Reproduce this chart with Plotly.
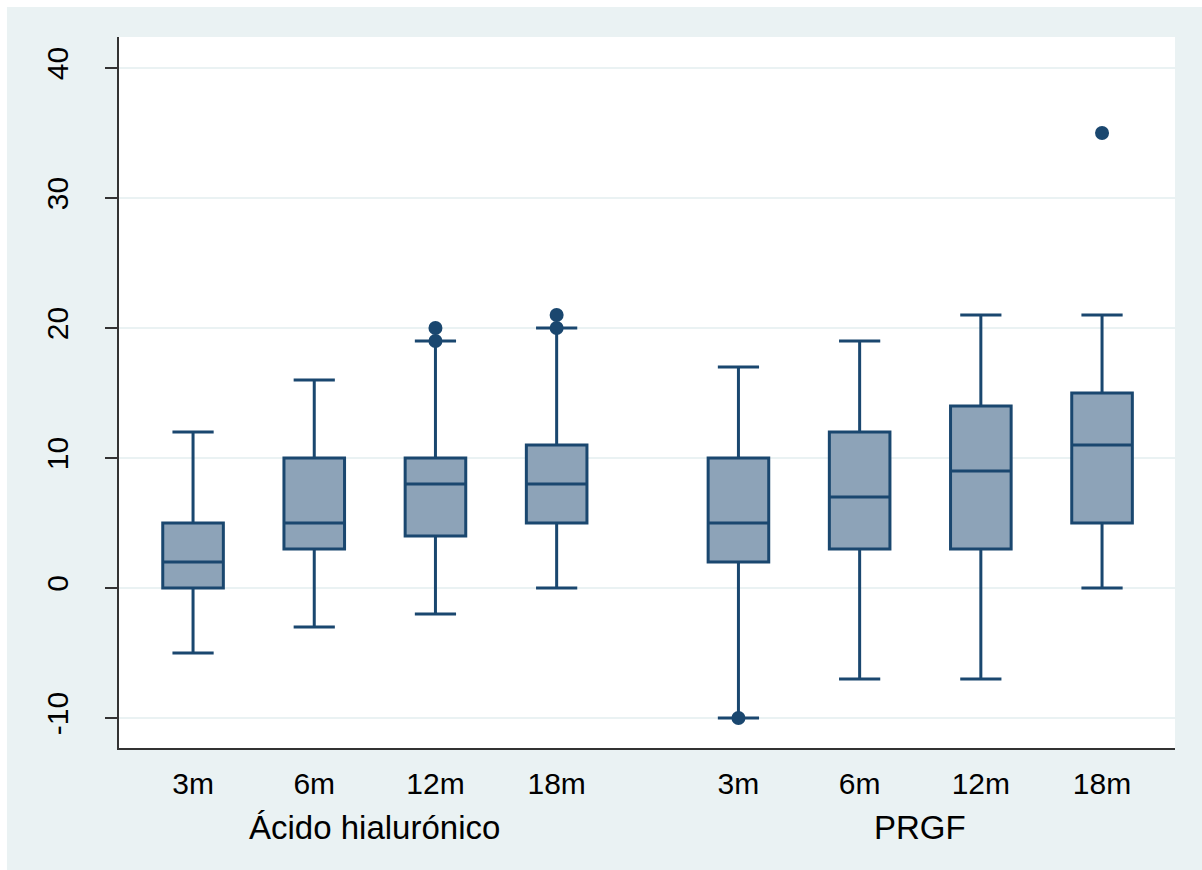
import plotly.graph_objects as go

# ---- data ----
groups = ["Ácido hialurónico", "PRGF"]
time_labels = ["3m", "6m", "12m", "18m", "3m", "6m", "12m", "18m"]
positions = [1, 2, 3, 4, 5.5, 6.5, 7.5, 8.5]
lower = [-5, -3, -2, 0, -10, -7, -7, 0]
q1 = [0, 3, 4, 5, 2, 3, 3, 5]
median = [2, 5, 8, 8, 5, 7, 9, 11]
q3 = [5, 10, 10, 11, 10, 12, 14, 15]
upper = [12, 16, 19, 20, 17, 19, 21, 21]
outlier_x = [3, 3, 4, 4, 5.5, 8.5]
outlier_y = [19, 20, 20, 21, -10, 35]
group_centers = [2.5, 7.0]

LINE = "#1A476F"
FILL = "#8DA3B8"
GRID = "#EAF2F3"
BG = "#EAF2F3"
FONT = "Liberation Sans, Arial, sans-serif"

fig = go.Figure()
fig.add_trace(go.Box(
    x=positions, q1=q1, median=median, q3=q3,
    lowerfence=lower, upperfence=upper,
    width=0.5, whiskerwidth=0.68,
    fillcolor=FILL, line=dict(color=LINE, width=3),
    boxpoints=False, showlegend=False, hoverinfo="skip",
))
fig.add_trace(go.Scatter(
    x=outlier_x, y=outlier_y, mode="markers",
    marker=dict(color=LINE, size=14), showlegend=False, hoverinfo="skip",
))

for g, c in zip(groups, group_centers):
    fig.add_annotation(x=c, xref="x", y=-0.1125, yref="paper", text=g,
                       showarrow=False, yanchor="middle", xanchor="center",
                       font=dict(size=33, color="black", family=FONT))

# white border strips (top and left)
fig.add_shape(type="rect", xref="paper", yref="paper", x0=-0.2, x1=1.2,
              y0=1.0422, y1=1.2, fillcolor="white", line_width=0, layer="below")
fig.add_shape(type="rect", xref="paper", yref="paper", x0=-0.2, x1=-0.1061,
              y0=-0.3, y1=1.2, fillcolor="white", line_width=0, layer="below")

fig.update_layout(
    width=1202, height=870,
    margin=dict(l=119, r=27, t=37, b=122),
    paper_bgcolor=BG, plot_bgcolor="white",
    font=dict(family=FONT, color="black"),
    showlegend=False,
)
fig.update_xaxes(
    range=[0.389, 9.102], tickmode="array", tickvals=positions, ticktext=time_labels,
    tickfont=dict(size=30), showgrid=False, zeroline=False, ticks="",
    showline=True, linecolor="#333333", linewidth=2, ticklabelstandoff=8,
)
fig.update_yaxes(
    range=[-12.31, 42.38], tickmode="array", tickvals=[-10, 0, 10, 20, 30, 40],
    ticktext=["-10", "0", "10", "20", "30", "40"],
    tickangle=-90, tickfont=dict(size=30), showgrid=True, gridcolor=GRID, gridwidth=2,
    zeroline=False, ticks="outside", ticklen=12, tickwidth=2, tickcolor="#333333",
    showline=True, linecolor="#333333", linewidth=2, ticklabelstandoff=25,
)

fig.write_html("out.html")
